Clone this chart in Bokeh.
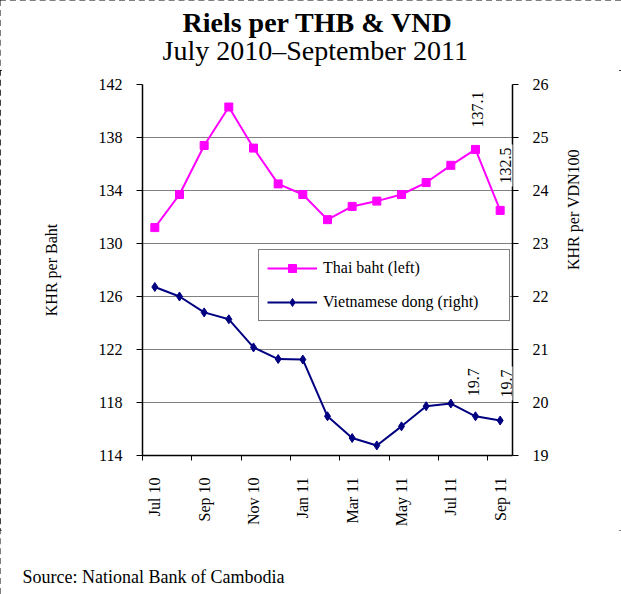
import math
from bokeh.plotting import figure
from bokeh.layouts import column
from bokeh.models import (Range1d, LinearAxis, FixedTicker, Label,
                          Legend, LegendItem)
from bokeh.embed import file_html
from bokeh.resources import INLINE

# ---------------- data ----------------
months = ["Jul 10", "Aug 10", "Sep 10", "Oct 10", "Nov 10", "Dec 10", "Jan 11",
          "Feb 11", "Mar 11", "Apr 11", "May 11", "Jun 11", "Jul 11", "Aug 11", "Sep 11"]
thai_baht = [131.2, 133.7, 137.4, 140.3, 137.2, 134.5, 133.7, 131.8, 132.8,
             133.2, 133.7, 134.6, 135.9, 137.1, 132.5]
viet_dong = [22.18, 22.00, 21.70, 21.57, 21.04, 20.82, 20.81, 19.74, 19.33,
             19.19, 19.55, 19.93, 19.98, 19.74, 19.66]
left_ticks = [114, 118, 122, 126, 130, 134, 138, 142]
right_ticks = [19, 20, 21, 22, 23, 24, 25, 26]

title_text = "Riels per THB & VND"
subtitle_text = "July 2010\u2013September 2011"
left_label = "KHR per Baht"
right_label = "KHR per VDN100"
source_text = "Source: National Bank of Cambodia"

FONT = "Liberation Serif"
MAGENTA = "#FF00FF"
NAVY = "#000080"
W = 621


def text_strip(height):
    f = figure(width=W, height=height, output_backend="svg", toolbar_location=None,
               title=None, x_axis_location=None, y_axis_location=None,
               x_range=Range1d(0, W), y_range=Range1d(0, height), min_border=0)
    f.frame_align = False
    f.outline_line_color = None
    f.grid.visible = False
    f.background_fill_color = "white"
    f.border_fill_color = "white"
    return f


def strip_text(f, text, x, y, size, style="normal"):
    f.add_layout(Label(text=text, x=x, y=y, x_units="screen", y_units="screen",
                       text_align="left", text_baseline="alphabetic",
                       text_font=FONT, text_font_size=size, text_font_style=style,
                       text_color="black"))


# ---------------- header ----------------
header = text_strip(70)
strip_text(header, title_text, 182, 48, "28px", "bold")
strip_text(header, subtitle_text, 162, 20, "28px")

# ---------------- main chart ----------------
xs = [i + 0.5 for i in range(len(months))]

p = figure(width=W, height=460, output_backend="svg", toolbar_location=None,
           title=None,
           x_range=Range1d(0, len(months)), y_range=Range1d(left_ticks[0], left_ticks[-1]),
           min_border_left=142, min_border_right=109,
           min_border_top=14, min_border_bottom=75)
p.frame_align = False
p.extra_y_ranges = {"vnd": Range1d(right_ticks[0], right_ticks[-1])}
p.outline_line_color = None
p.background_fill_color = "white"
p.border_fill_color = "white"

xa = p.xaxis[0]
label_pos = [xs[i] for i in range(0, len(months), 2)]
xa.ticker = FixedTicker(ticks=label_pos, minor_ticks=[float(i) for i in range(0, len(months), 2)])
xa.major_label_overrides = {xs[i]: months[i] for i in range(0, len(months), 2)}
xa.major_label_orientation = math.pi / 2
xa.major_tick_line_color = None
xa.major_tick_out = 5
xa.major_tick_in = 0
xa.minor_tick_line_color = "black"
xa.minor_tick_out = 5
xa.minor_tick_in = 0
xa.major_label_standoff = 17
xa.axis_line_color = "black"
xa.axis_line_width = 1.5
xa.major_label_text_font = FONT
xa.major_label_text_font_size = "16px"
xa.major_label_text_color = "black"

ya = p.yaxis[0]
ya.ticker = FixedTicker(ticks=left_ticks)
ya.minor_tick_line_color = None
ya.major_tick_out = 6
ya.major_tick_in = 0
ya.major_label_standoff = 14
ya.axis_line_color = "black"
ya.axis_line_width = 1.5
ya.major_tick_line_color = "black"
ya.major_label_text_font = FONT
ya.major_label_text_font_size = "16px"
ya.major_label_text_color = "black"
ya.axis_label = left_label
ya.axis_label_text_font = FONT
ya.axis_label_text_font_size = "16px"
ya.axis_label_text_font_style = "normal"
ya.axis_label_text_color = "black"
ya.axis_label_standoff = 36

ra = LinearAxis(y_range_name="vnd", ticker=FixedTicker(ticks=right_ticks),
                axis_label=right_label)
ra.minor_tick_line_color = None
ra.major_tick_out = 6
ra.major_tick_in = 0
ra.major_label_standoff = 14
ra.axis_line_color = "black"
ra.axis_line_width = 1.5
ra.major_label_text_font = FONT
ra.major_label_text_font_size = "16px"
ra.major_label_text_color = "black"
ra.axis_label_text_font = FONT
ra.axis_label_text_font_size = "16px"
ra.axis_label_text_font_style = "normal"
ra.axis_label_text_color = "black"
ra.axis_label_standoff = 22
ra.axis_label_orientation = math.pi / 2
p.add_layout(ra, "right")

p.xgrid.visible = False
p.ygrid.ticker = FixedTicker(ticks=left_ticks)
p.ygrid.grid_line_color = "#808080"
p.ygrid.grid_line_width = 1

l1 = p.line(xs, thai_baht, line_color=MAGENTA, line_width=2)
s1 = p.scatter(xs, thai_baht, marker="square", size=8, fill_color=MAGENTA, line_color=MAGENTA)
l2 = p.line(xs, viet_dong, line_color=NAVY, line_width=2, y_range_name="vnd")
s2 = p.scatter(xs, viet_dong, marker="diamond", size=9, fill_color=NAVY, line_color=NAVY,
               y_range_name="vnd")

legend = Legend(items=[LegendItem(label="Thai baht (left)", renderers=[l1, s1]),
                       LegendItem(label="Vietnamese dong (right)", renderers=[l2, s2])],
                location=(116, 134))
legend.glyph_width = 50
legend.glyph_height = 20
legend.label_height = 20
legend.label_width = 178
legend.spacing = 14
legend.padding = 8
legend.label_standoff = 6
legend.label_text_font = FONT
legend.label_text_font_size = "16px"
legend.label_text_color = "black"
legend.border_line_color = "black"
legend.border_line_width = 1
legend.background_fill_alpha = 1
legend.margin = 0
p.add_layout(legend)


def add_label(xv, yv, rng, dx, dy):
    kw = dict(x=xv, y=yv, text=f"{yv:.1f}", angle=math.pi / 2,
              text_align="left", text_baseline="middle",
              x_offset=dx, y_offset=dy, text_font=FONT, text_font_size="16px",
              text_color="black", background_fill_color="white", padding=3)
    if rng:
        kw["y_range_name"] = rng
    p.add_layout(Label(**kw))


add_label(xs[13], thai_baht[13], None, 2, 19)
add_label(xs[14], thai_baht[14], None, 5, 24)
add_label(xs[13], viet_dong[13], "vnd", -2, 17)
add_label(xs[14], viet_dong[14], "vnd", 6, 20)

# ---------------- footer ----------------
footer = text_strip(64)
strip_text(footer, source_text, 22, 18, "18px")

page = column(header, p, footer, spacing=0)
page.styles = {"outline": "2px dashed black", "outline-offset": "-2px"}

open("out.html", "w").write(file_html(page, INLINE))
